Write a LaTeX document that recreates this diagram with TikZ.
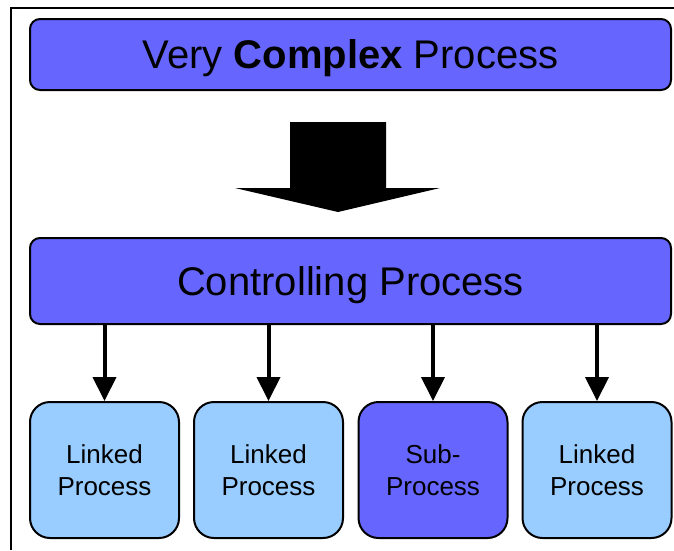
\documentclass[tikz,border=0pt]{standalone}
\usepackage{fontspec}
\setmainfont{Liberation Sans}
\usetikzlibrary{arrows.meta}
\definecolor{procblue}{RGB}{102,102,255}
\definecolor{linkblue}{RGB}{153,204,255}
\tikzset{
    bigbox/.style={draw=black, line width=2pt, fill=procblue, rounded corners=10pt,
        minimum width=641pt, minimum height=71pt, inner sep=0pt, text depth=0pt,
        font=\fontsize{40}{48}\selectfont},
    smallbox/.style={draw=black, line width=2pt, fill=linkblue, rounded corners=20pt,
        minimum width=149pt, minimum height=136pt, inner sep=0pt, align=center,
        font=\fontsize{26}{32}\selectfont},
    link/.style={line width=4pt, -{Triangle[width=23pt,length=24pt]}}
}
\begin{document}
\begin{tikzpicture}[x=1pt,y=-1pt]
    \useasboundingbox (0,0) rectangle (674,550);

    % Frame
    \draw[line width=1.5pt] (11,550) -- (11,8) -- (674,8);

    % Big boxes
    \node[bigbox] (top) at (350.5,54.5) {Very \textbf{Complex} Process};
    \node[bigbox, minimum height=86pt] (ctrl) at (350.5,281) {Controlling Process};

    % Block arrow
    \coordinate (A) at (290,122);
    \coordinate (B) at (386,122);
    \coordinate (C) at (386,188);
    \coordinate (D) at (440,188);
    \coordinate (E) at (338,212);
    \coordinate (F) at (235,188);
    \coordinate (G) at (290,188);
    \fill (A) -- (B) -- (C) -- (D) -- (E) -- (F) -- (G) -- cycle;

    % Small boxes
    \node[smallbox] (l1) at (104.5,470) {Linked\\Process};
    \node[smallbox] (l2) at (268.5,470) {Linked\\Process};
    \node[smallbox, fill=procblue] (sub) at (433,470) {Sub-\\Process};
    \node[smallbox] (l4) at (597,470) {Linked\\Process};

    % Links
    \draw[link] (ctrl.south -| l1.north) -- (l1.north);
    \draw[link] (ctrl.south -| l2.north) -- (l2.north);
    \draw[link] (ctrl.south -| sub.north) -- (sub.north);
    \draw[link] (ctrl.south -| l4.north) -- (l4.north);
\end{tikzpicture}
\end{document}
